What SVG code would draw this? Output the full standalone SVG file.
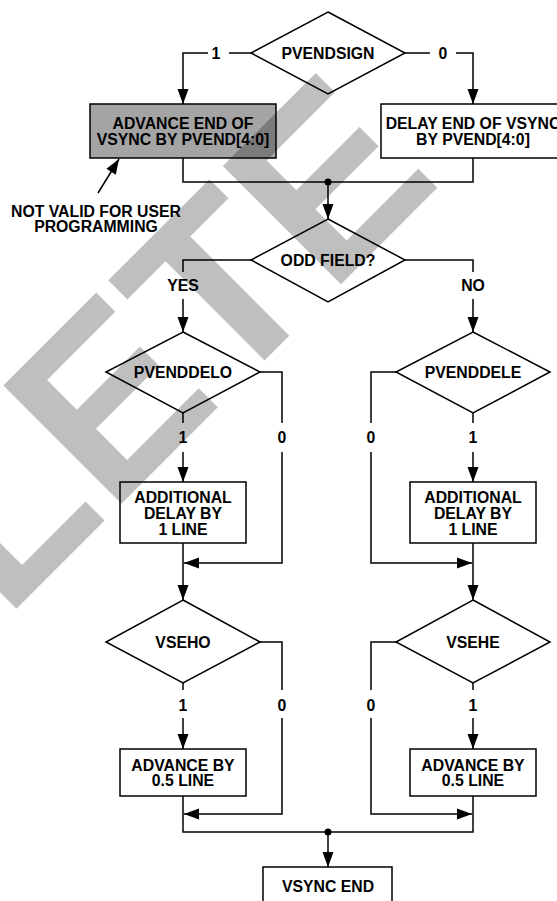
<svg xmlns="http://www.w3.org/2000/svg" width="557" height="901" viewBox="0 0 557 901">
<style>
.ln{fill:none;stroke:#000;stroke-width:1.5}
.nd{fill:#fff;stroke:#000;stroke-width:1.5}
.gr{fill:#a4a4a4;stroke:#000;stroke-width:1.5}
.t{font-family:"Liberation Sans",Arial,sans-serif;font-weight:bold;font-size:15.8px;text-anchor:middle;fill:#000}
.wm{font-family:"Liberation Sans",Arial,sans-serif;font-weight:bold;font-size:243px;fill:#000;fill-opacity:0.25}
</style>
<defs>
<marker id="ah" viewBox="-16 -6 17 12" refX="0" refY="0" markerWidth="17" markerHeight="12" orient="auto" markerUnits="userSpaceOnUse">
<path d="M0,0 L-15,-5.5 L-15,5.5 Z" fill="#000"/>
</marker>
</defs>
<rect width="557" height="901" fill="#fff"/>
<g id="connectors">
<path class="ln" d="M251,53 H229"/>
<path class="ln" d="M208,53 H183 V104" marker-end="url(#ah)"/>
<path class="ln" d="M405,53 H430"/>
<path class="ln" d="M456,53 H473 V104" marker-end="url(#ah)"/>
<path class="ln" d="M183,158 V182 H473 V158"/>
<path class="ln" d="M328,182 V219" marker-end="url(#ah)"/>
<circle cx="328" cy="182" r="3.5" fill="#000"/>
<path class="ln" d="M251,260 H183 V272"/>
<path class="ln" d="M183,299 V332" marker-end="url(#ah)"/>
<path class="ln" d="M405,260 H473 V272"/>
<path class="ln" d="M473,299 V332" marker-end="url(#ah)"/>
<path class="ln" d="M183,413 V423"/>
<path class="ln" d="M183,452 V482" marker-end="url(#ah)"/>
<path class="ln" d="M260,372 H282 V423"/>
<path class="ln" d="M282,452 V563 H184" marker-end="url(#ah)"/>
<path class="ln" d="M183,543 V600" marker-end="url(#ah)"/>
<path class="ln" d="M183,683 V690"/>
<path class="ln" d="M183,718 V749" marker-end="url(#ah)"/>
<path class="ln" d="M260,642 H282 V690"/>
<path class="ln" d="M282,718 V814 H184" marker-end="url(#ah)"/>
<path class="ln" d="M183,796 V832 H473 V796"/>
<path class="ln" d="M473,413 V423"/>
<path class="ln" d="M473,452 V482" marker-end="url(#ah)"/>
<path class="ln" d="M396,372 H371 V423"/>
<path class="ln" d="M371,452 V563 H472" marker-end="url(#ah)"/>
<path class="ln" d="M473,543 V600" marker-end="url(#ah)"/>
<path class="ln" d="M473,683 V690"/>
<path class="ln" d="M473,718 V749" marker-end="url(#ah)"/>
<path class="ln" d="M396,642 H371 V690"/>
<path class="ln" d="M371,718 V814 H472" marker-end="url(#ah)"/>
<path class="ln" d="M328,832 V867" marker-end="url(#ah)"/>
<circle cx="328" cy="832" r="3.5" fill="#000"/>
<path class="ln" d="M98,193 L119,159" marker-end="url(#ah)"/>
</g>
<g id="labels">
<text class="t" x="216" y="58.7">1</text>
<text class="t" x="443" y="58.7">0</text>
<text class="t" x="183" y="290.7">YES</text>
<text class="t" x="473" y="290.7">NO</text>
<text class="t" x="183" y="442.7">1</text>
<text class="t" x="282" y="442.7">0</text>
<text class="t" x="371" y="442.7">0</text>
<text class="t" x="473" y="442.7">1</text>
<text class="t" x="183" y="710.7">1</text>
<text class="t" x="282" y="710.7">0</text>
<text class="t" x="371" y="710.7">0</text>
<text class="t" x="473" y="710.7">1</text>
</g>
<g id="pvendsign">
<polygon class="nd" points="328,12 405,53 328,94 251,53"/>
<text class="t" x="328" y="58.7">PVENDSIGN</text>
</g>
<g id="advance-end">
<rect class="gr" x="90" y="104" width="186" height="54"/>
<text class="t" x="183" y="129">ADVANCE END OF</text>
<text class="t" x="183" y="145.3">VSYNC BY PVEND[4:0]</text>
</g>
<g id="delay-end">
<rect class="nd" x="381" y="104" width="186" height="54"/>
<text class="t" x="473" y="129">DELAY END OF VSYNC</text>
<text class="t" x="473" y="145.3">BY PVEND[4:0]</text>
</g>
<g id="note">
<text class="t" x="96" y="216.6">NOT VALID FOR USER</text>
<text class="t" x="96" y="232.4">PROGRAMMING</text>
</g>
<g id="odd-field">
<polygon class="nd" points="328,219 405,260 328,302 251,260"/>
<text class="t" x="328" y="265.7">ODD FIELD?</text>
</g>
<g id="pvenddelo">
<polygon class="nd" points="183,332 260,372 183,413 106,372"/>
<text class="t" x="183" y="377.7">PVENDDELO</text>
</g>
<g id="pvenddele">
<polygon class="nd" points="473,332 550,372 473,413 396,372"/>
<text class="t" x="473" y="377.7">PVENDDELE</text>
</g>
<g id="add-delay-odd">
<rect class="nd" x="120" y="482" width="126" height="61"/>
<text class="t" x="183" y="503.4">ADDITIONAL</text>
<text class="t" x="183" y="519">DELAY BY</text>
<text class="t" x="183" y="534.7">1 LINE</text>
</g>
<g id="add-delay-even">
<rect class="nd" x="410" y="482" width="126" height="61"/>
<text class="t" x="473" y="503.4">ADDITIONAL</text>
<text class="t" x="473" y="519">DELAY BY</text>
<text class="t" x="473" y="534.7">1 LINE</text>
</g>
<g id="vseho">
<polygon class="nd" points="183,600 260,642 183,683 106,642"/>
<text class="t" x="183" y="647.7">VSEHO</text>
</g>
<g id="vsehe">
<polygon class="nd" points="473,600 550,642 473,683 396,642"/>
<text class="t" x="473" y="647.7">VSEHE</text>
</g>
<g id="advance-odd">
<rect class="nd" x="120" y="749" width="126" height="47"/>
<text class="t" x="183" y="770.7">ADVANCE BY</text>
<text class="t" x="183" y="785.7">0.5 LINE</text>
</g>
<g id="advance-even">
<rect class="nd" x="410" y="749" width="126" height="47"/>
<text class="t" x="473" y="770.7">ADVANCE BY</text>
<text class="t" x="473" y="785.7">0.5 LINE</text>
</g>
<g id="vsync-end">
<rect class="nd" x="263" y="867" width="129" height="50"/>
<text class="t" x="328" y="891.7">VSYNC END</text>
</g>
<g id="watermark">
<text class="wm" transform="rotate(-45)" x="186" y="442" text-anchor="end">OBSOLETE</text>
</g>
</svg>
